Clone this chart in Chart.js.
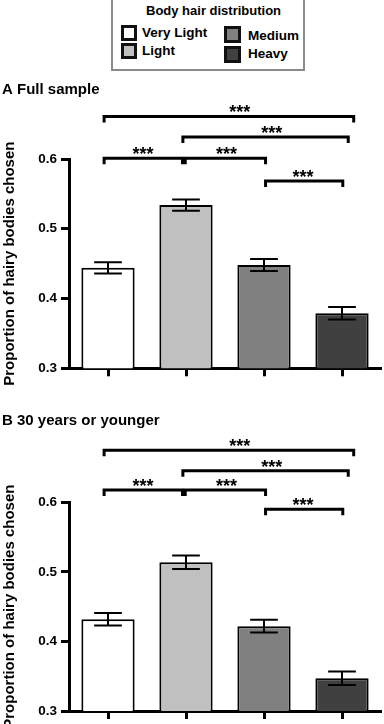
<!DOCTYPE html>
<html>
<head>
<meta charset="utf-8">
<script src="https://cdn.jsdelivr.net/npm/chart.js@4.4.1/dist/chart.umd.min.js"></script>
<style>
  html, body { margin: 0; padding: 0; background: #fff; }
  body { position: relative; width: 384px; height: 724px; overflow: hidden;
         font-family: "Liberation Sans", Arial, sans-serif; color: #000; }
  canvas { position: absolute; left: 0; }
  #chartA { top: 75px; }
  #chartB { top: 400px; }
  #legendBox { position: absolute; left: 111px; top: -4px; width: 194px; height: 75px;
               box-sizing: border-box; border: 2px solid #8a8a8a; }
  .lg-title { position: absolute; font-weight: bold; font-size: 13px; line-height: 14px; white-space: nowrap; }
  .lg-swatch { position: absolute; box-sizing: border-box; border: 3px solid #111; }
  .lg-text { position: absolute; font-weight: bold; font-size: 13.5px; line-height: 16px; white-space: nowrap; }
</style>
</head>
<body>
<div id="legendBox"></div>
<div id="legend"></div>
<canvas id="chartA" width="384" height="325"></canvas>
<canvas id="chartB" width="384" height="324"></canvas>
<script>
// --- données ---
const categories = ["Very Light", "Light", "Medium", "Heavy"];
const barColors = ["#ffffff", "#c0c0c0", "#808080", "#404040"];

const fullSampleMeans = [0.444, 0.534, 0.448, 0.379];
const fullSampleErrors = [0.008, 0.008, 0.0085, 0.009];

const youngMeans = [0.432, 0.514, 0.422, 0.347];
const youngErrors = [0.009, 0.0097, 0.009, 0.0097];

const yTickValues = [0.3, 0.4, 0.5, 0.6];

// comparaisons (indices de catégorie) et hauteur des crochets en unités de l'axe y
const bracketFrom = [-0.05, 0.96, -0.05, 0.99, 2.02];
const bracketTo = [3.15, 3.08, 0.955, 2.02, 3.01];
const bracketLabelAt = [1.69, 2.1, 0.45, 1.52, 2.5];
const bracketLabels = ["***", "***", "***", "***", "***"];
const bracketHeightsA = [0.661, 0.6315, 0.601, 0.601, 0.5685];
const bracketHeightsB = [0.675, 0.6453, 0.6176, 0.6176, 0.59];

const FONT = '"Liberation Sans", Arial, sans-serif';
Chart.defaults.font.family = FONT;
Chart.defaults.color = "#000";

// Légende (HTML)
const legendPos = [
  { sx: 121, sy: 25, s: 16, tx: 142, ty: 25 },
  { sx: 121, sy: 43, s: 16, tx: 142, ty: 43 },
  { sx: 224, sy: 26, s: 17, tx: 248, ty: 27.5 },
  { sx: 224, sy: 45.5, s: 17, tx: 248, ty: 45.5 }
];
(function buildLegend() {
  const root = document.getElementById("legend");
  const title = document.createElement("div");
  title.className = "lg-title";
  title.style.left = "146px";
  title.style.top = "3.5px";
  title.textContent = "Body hair distribution";
  root.appendChild(title);
  categories.forEach((name, i) => {
    const p = legendPos[i];
    const sw = document.createElement("div");
    sw.className = "lg-swatch";
    sw.style.left = p.sx + "px";
    sw.style.top = p.sy + "px";
    sw.style.width = p.s + "px";
    sw.style.height = p.s + "px";
    sw.style.background = barColors[i];
    root.appendChild(sw);
    const t = document.createElement("div");
    t.className = "lg-text";
    t.style.left = p.tx + "px";
    t.style.top = p.ty + "px";
    t.textContent = name;
    root.appendChild(t);
  });
})();

// barres d'erreur
const errorBarsPlugin = {
  id: "errorBars",
  afterDatasetsDraw(chart, args, opts) {
    const { ctx } = chart;
    const yScale = chart.scales.y;
    const meta = chart.getDatasetMeta(0);
    const values = chart.data.datasets[0].data;
    ctx.save();
    ctx.strokeStyle = "#000";
    ctx.lineWidth = 2;
    meta.data.forEach((bar, i) => {
      const top = yScale.getPixelForValue(values[i] + opts.errors[i]);
      const bottom = yScale.getPixelForValue(values[i] - opts.errors[i]);
      const half = bar.width * 0.26;
      ctx.beginPath();
      ctx.moveTo(bar.x, top);
      ctx.lineTo(bar.x, bottom);
      ctx.moveTo(bar.x - half, top);
      ctx.lineTo(bar.x + half, top);
      ctx.moveTo(bar.x - half, bottom);
      ctx.lineTo(bar.x + half, bottom);
      ctx.stroke();
    });
    ctx.restore();
  }
};

// crochets de significativité
const bracketsPlugin = {
  id: "sigBrackets",
  afterDraw(chart, args, opts) {
    const { ctx } = chart;
    const xScale = chart.scales.x;
    const yScale = chart.scales.y;
    ctx.save();
    ctx.strokeStyle = "#000";
    ctx.fillStyle = "#000";
    ctx.lineWidth = 3;
    ctx.lineJoin = "miter";
    ctx.font = "bold 18px " + FONT;
    ctx.textAlign = "center";
    ctx.textBaseline = "alphabetic";
    opts.heights.forEach((h, i) => {
      const x0 = xScale.getPixelForValue(bracketFrom[i]);
      const x1 = xScale.getPixelForValue(bracketTo[i]);
      const y = yScale.getPixelForValue(h);
      ctx.beginPath();
      ctx.moveTo(x0, y + 6);
      ctx.lineTo(x0, y);
      ctx.lineTo(x1, y);
      ctx.lineTo(x1, y + 6);
      ctx.stroke();
      ctx.fillText(bracketLabels[i], xScale.getPixelForValue(bracketLabelAt[i]), y + 2);
    });
    ctx.restore();
  }
};

function buildPanel(canvasId, titleText, means, errors, bracketHeights, titlePad, bottomPad) {
  return new Chart(document.getElementById(canvasId), {
    type: "bar",
    data: {
      labels: categories,
      datasets: [{
        data: means,
        backgroundColor: barColors,
        borderColor: "#000",
        borderWidth: 2,
        barPercentage: 0.683,
        categoryPercentage: 1
      }]
    },
    options: {
      responsive: false,
      animation: false,
      layout: { padding: { left: 2, right: 3, top: 0, bottom: bottomPad } },
      scales: {
        x: {
          ticks: { display: false },
          grid: { display: true, drawOnChartArea: false, drawTicks: true, tickLength: 8, tickWidth: 3, color: "#000", offset: false },
          border: { display: true, width: 3, color: "#000" }
        },
        y: {
          min: 0.3,
          max: 0.6,
          afterBuildTicks: (scale) => { scale.ticks = yTickValues.map(v => ({ value: v })); },
          afterFit: (scale) => { scale.width = 67; },
          ticks: {
            padding: 4,
            font: { size: 13.5, weight: "bold" },
            color: "#000",
            callback: (v) => Number(v).toFixed(1)
          },
          grid: { display: true, drawOnChartArea: false, drawTicks: true, tickLength: 8, tickWidth: 3, color: "#000" },
          border: { display: true, width: 3, color: "#000" },
          title: {
            display: true,
            text: "Proportion of hairy bodies chosen",
            font: { size: 15, weight: "bold", lineHeight: 1 },
            padding: 0,
            color: "#000"
          }
        }
      },
      plugins: {
        legend: { display: false },
        tooltip: { enabled: false },
        title: {
          display: true,
          text: titleText,
          align: "start",
          color: "#000",
          font: { size: 15, weight: "bold" },
          padding: titlePad
        },
        errorBars: { errors: errors },
        sigBrackets: { heights: bracketHeights }
      }
    },
    plugins: [errorBarsPlugin, bracketsPlugin]
  });
}

buildPanel("chartA", "A Full sample", fullSampleMeans, fullSampleErrors, bracketHeightsA,
  { top: 6, bottom: 60 }, 23.7);
buildPanel("chartB", "B 30 years or younger", youngMeans, youngErrors, bracketHeightsB,
  { top: 11.7, bottom: 72.6 }, 5);
</script>
</body>
</html>
